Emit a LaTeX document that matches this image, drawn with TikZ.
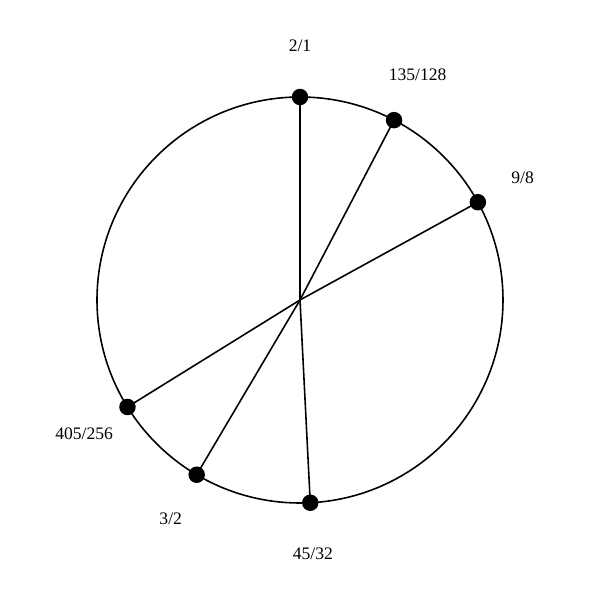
\documentclass[tikz,border=0pt]{standalone}
\usepackage{fontspec}
\setmainfont{Liberation Serif}
\usepackage{tikz}
\pgfkeys{tikz/ratiodot/.style={circle,fill=black,inner sep=0pt,minimum size=0.33cm}}
\pgfkeys{tikz/ratiolabel/.style={font=\fontsize{10}{12}\selectfont,inner sep=0pt}}
\begin{document}
\begin{tikzpicture}[line width=0.9pt]
	\useasboundingbox (-6,-6) rectangle (6,6);

	\node[circle,draw,line width=0.9pt,minimum size=8.12cm,inner sep=0pt] (wheel) at (0,0) {};
	\coordinate (mid) at (0,0);

	\node[ratiodot] (p-1) at (90:4.06) {};
	\node[ratiodot] (p-2) at (62.4:4.06) {};
	\node[ratiodot] (p-3) at (28.8:4.06) {};
	\node[ratiodot] (p-4) at (-87.1:4.06) {};
	\node[ratiodot] (p-5) at (-120.6:4.06) {};
	\node[ratiodot] (p-6) at (-148.2:4.06) {};

	\draw (p-1.center) -- (mid);
	\draw (p-2.center) -- (mid);
	\draw (p-3.center) -- (mid);
	\draw (p-4.center) -- (mid);
	\draw (p-5.center) -- (mid);
	\draw (p-6.center) -- (mid);

	\node[ratiolabel] (label-1) at (90:5.08) {2/1};
	\node[ratiolabel] (label-2) at (62.4:5.08) {135/128};
	\node[ratiolabel] (label-3) at (28.8:5.08) {9/8};
	\node[ratiolabel] (label-4) at (-87.1:5.08) {45/32};
	\node[ratiolabel] (label-5) at (-120.6:5.08) {3/2};
	\node[ratiolabel] (label-6) at (-148.2:5.08) {405/256};

\end{tikzpicture}
\end{document}
